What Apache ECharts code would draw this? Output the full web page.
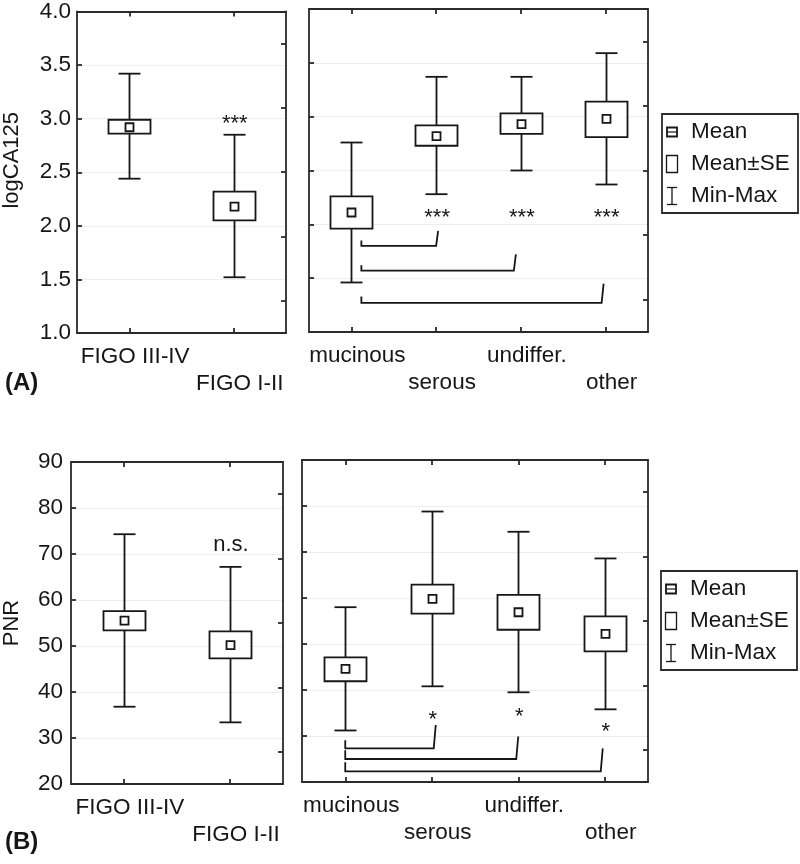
<!DOCTYPE html>
<html><head><meta charset="utf-8">
<script src="https://cdn.jsdelivr.net/npm/echarts@6/dist/echarts.min.js"></script>
<style>html,body{margin:0;padding:0;background:#fff}#c{width:800px;height:864px}</style>
</head><body><div id="c"></div>
<script>
// ================= DATA =================
const stageCats = ['FIGO III-IV', 'FIGO I-II'];
const histCats  = ['mucinous', 'serous', 'undiffer.', 'other'];

// Panel A: logCA125
const caStageMin    = [2.44, 1.52];
const caStageSeLow  = [2.86, 2.05];
const caStageMean   = [2.92, 2.18];
const caStageSeHigh = [2.99, 2.32];
const caStageMax    = [3.42, 2.85];
const caStageSig    = ['', '***'];
const caStageSigY   = [null, 2.95];

const caHistMin    = [1.46, 2.28, 2.50, 2.37];
const caHistSeLow  = [1.96, 2.73, 2.84, 2.81];
const caHistMean   = [2.11, 2.82, 2.93, 2.98];
const caHistSeHigh = [2.26, 2.92, 3.03, 3.14];
const caHistMax    = [2.76, 3.37, 3.37, 3.59];
const caHistSig    = ['', '***', '***', '***'];
const caHistSigY   = [null, 2.06, 2.06, 2.06];
const caPairs          = [[0, 1], [0, 2], [0, 3]];
const caBracketBar     = [1.80, 1.57, 1.27];
const caBracketLeftTop = [1.85, 1.62, 1.33];
const caBracketRightTop= [1.94, 1.72, 1.45];
const caTickMin = 1.0, caTickMax = 4.0, caTickStep = 0.5;

// Panel B: PNR
const pnrStageMin    = [36.8, 33.4];
const pnrStageSeLow  = [53.4, 47.3];
const pnrStageMean   = [55.5, 50.2];
const pnrStageSeHigh = [57.6, 53.2];
const pnrStageMax    = [74.3, 67.2];
const pnrStageSig    = ['', 'n.s.'];
const pnrStageSigY   = [null, 72.0];

const pnrHistMin    = [31.2, 40.8, 39.5, 35.8];
const pnrHistSeLow  = [41.9, 56.6, 53.1, 48.4];
const pnrHistMean   = [44.6, 59.8, 56.9, 52.2];
const pnrHistSeHigh = [47.1, 62.9, 60.7, 56.0];
const pnrHistMax    = [58.0, 78.8, 74.4, 68.6];
const pnrHistSig    = ['', '*', '*', '*'];
const pnrHistSigY   = [null, 33.6, 34.1, 30.9];
const pnrPairs          = [[0, 1], [0, 2], [0, 3]];
const pnrBracketBar     = [27.3, 25.0, 22.3];
const pnrBracketLeftTop = [29.1, 26.9, 24.3];
const pnrBracketRightTop= [32.4, 29.9, 27.3];
const pnrTickMin = 20, pnrTickMax = 90, pnrTickStep = 10;

const legendItems = ['Mean', 'Mean\u00B1SE', 'Min-Max'];

// ================= STYLE =================
const FONT = '"Liberation Sans", Arial, sans-serif';
const INK = '#161616';
const AX = '#2a2a2a';
const LW = 1.8;

const chart = echarts.init(document.getElementById('c'), null, {renderer: 'canvas'});

const grids = [
  {left: 77,  top: 10,  width: 209, height: 323},
  {left: 309, top: 9,   width: 339, height: 323},
  {left: 70,  top: 462, width: 213, height: 322},
  {left: 302, top: 460, width: 346, height: 322}
];

const xAxes = [], yAxes = [], series = [];

function addPanel(gi, cats, ymin, ymax, ystep, showY, yName, yNameGap, yNamePad, fmt) {
  const lineStyle = {color: AX, width: LW};
  xAxes.push({
    type: 'category', gridIndex: gi, data: cats, position: 'bottom',
    axisLine: {show: true, lineStyle},
    axisTick: {show: true, inside: true, length: 5, alignWithLabel: true, lineStyle},
    axisLabel: {
      interval: 0, fontSize: 22.5, fontFamily: FONT, color: INK, margin: 10,
      lineHeight: 27, padding: [0, 0, 0, 12],
      formatter: (v, i) => (i % 2 ? '\n' + v : v)
    },
    splitLine: {show: false}
  });
  xAxes.push({
    type: 'category', gridIndex: gi, data: cats, position: 'top',
    axisLine: {show: true, lineStyle},
    axisTick: {show: true, inside: true, length: 5, alignWithLabel: true, lineStyle},
    axisLabel: {show: false}, splitLine: {show: false}
  });
  yAxes.push({
    type: 'value', gridIndex: gi, min: ymin, max: ymax, interval: ystep, position: 'left',
    name: yName, nameLocation: 'middle', nameGap: yNameGap, nameRotate: 90,
    nameTextStyle: {fontSize: 22, fontFamily: FONT, color: INK, padding: yNamePad},
    axisLine: {show: true, lineStyle},
    axisTick: {show: true, inside: true, length: 5, lineStyle},
    axisLabel: {show: showY, fontSize: 22.5, fontFamily: FONT, color: INK, margin: fmt ? 6 : 8,
      formatter: fmt || (v => String(v))},
    splitLine: {show: true, lineStyle: {color: '#ededed', width: 1}}
  });
  yAxes.push({
    type: 'category', gridIndex: gi, position: 'right', data: ['a', 'b', 'c', 'd', 'e'],
    boundaryGap: true,
    axisLine: {show: true, lineStyle},
    axisTick: {show: true, inside: true, length: 5, alignWithLabel: true, lineStyle},
    axisLabel: {show: false}, splitLine: {show: false}
  });
}

function boxSeries(gi, mins, lows, means, highs, maxs) {
  const data = mins.map((m, i) => [i, m, lows[i], means[i], highs[i], maxs[i]]);
  return {
    type: 'custom', xAxisIndex: gi * 2, yAxisIndex: gi * 2, data,
    encode: {x: 0, y: [1, 2, 3, 4, 5]}, z: 5,
    renderItem(params, api) {
      const x = api.value(0);
      const pMin = api.coord([x, api.value(1)]);
      const pLo = api.coord([x, api.value(2)]);
      const pMean = api.coord([x, api.value(3)]);
      const pHi = api.coord([x, api.value(4)]);
      const pMax = api.coord([x, api.value(5)]);
      const cx = Math.round(pMin[0]) + 0.5;
      const bw = 42, cw = 22, ms = 8;
      const st = {stroke: INK, lineWidth: LW, fill: null};
      return {type: 'group', children: [
        {type: 'line', shape: {x1: cx, y1: pMax[1], x2: cx, y2: pHi[1]}, style: st},
        {type: 'line', shape: {x1: cx, y1: pLo[1], x2: cx, y2: pMin[1]}, style: st},
        {type: 'line', shape: {x1: cx - cw / 2, y1: pMax[1], x2: cx + cw / 2, y2: pMax[1]}, style: st},
        {type: 'line', shape: {x1: cx - cw / 2, y1: pMin[1], x2: cx + cw / 2, y2: pMin[1]}, style: st},
        {type: 'rect', shape: {x: cx - bw / 2, y: pHi[1], width: bw, height: pLo[1] - pHi[1]},
          style: {stroke: INK, lineWidth: LW, fill: '#fff'}},
        {type: 'rect', shape: {x: cx - ms / 2, y: pMean[1] - ms / 2, width: ms, height: ms},
          style: {stroke: INK, lineWidth: LW, fill: '#fff'}}
      ]};
    }
  };
}

function bracketSeries(gi, pairs, bar, leftTop, rightTop, insetL, insetR) {
  const data = pairs.map((p, i) => [p[0], p[1], bar[i], leftTop[i], rightTop[i]]);
  return {
    type: 'custom', xAxisIndex: gi * 2, yAxisIndex: gi * 2, data,
    encode: {x: [0, 1], y: [2, 3, 4]}, z: 4,
    renderItem(params, api) {
      const a = api.value(0), b = api.value(1);
      const pL = api.coord([a, api.value(2)]);
      const pR = api.coord([b, api.value(2)]);
      const pLT = api.coord([a, api.value(3)]);
      const pRT = api.coord([b, api.value(4)]);
      const xl = pL[0] + insetL, xr = pR[0] + insetR[params.dataIndex];
      return {type: 'polyline', shape: {points: [
        [xl, pLT[1]], [xl, pL[1]], [xr, pR[1]], [xr + 2, pRT[1]]
      ]}, style: {stroke: INK, lineWidth: LW, fill: null}};
    }
  };
}

function sigSeries(gi, labels, ys) {
  const items = [];
  labels.forEach((t, i) => { if (t) items.push({t, v: [i, ys[i]]}); });
  return {
    type: 'custom', xAxisIndex: gi * 2, yAxisIndex: gi * 2,
    data: items.map(o => o.v), encode: {x: 0, y: 1}, z: 6,
    renderItem(params, api) {
      const p = api.coord([api.value(0), api.value(1)]);
      return {type: 'text', x: p[0] + 1, y: p[1], style: {
        text: items[params.dataIndex].t, fontSize: 22, fontFamily: FONT, fill: INK,
        align: 'center', verticalAlign: 'middle'}};
    }
  };
}

addPanel(0, stageCats, caTickMin, caTickMax, caTickStep, true, 'logCA125', 54, [0, 0, 0, 24], v => v.toFixed(1));
addPanel(1, histCats, caTickMin, caTickMax, caTickStep, false, '', 0, 0, null);
addPanel(2, stageCats, pnrTickMin, pnrTickMax, pnrTickStep, true, 'PNR', 48, 0, null);
addPanel(3, histCats, pnrTickMin, pnrTickMax, pnrTickStep, false, '', 0, 0, null);

series.push(boxSeries(0, caStageMin, caStageSeLow, caStageMean, caStageSeHigh, caStageMax));
series.push(sigSeries(0, caStageSig, caStageSigY));
series.push(boxSeries(1, caHistMin, caHistSeLow, caHistMean, caHistSeHigh, caHistMax));
series.push(sigSeries(1, caHistSig, caHistSigY));
series.push(bracketSeries(1, caPairs, caBracketBar, caBracketLeftTop, caBracketRightTop, 10, [0, -7, -4]));
series.push(boxSeries(2, pnrStageMin, pnrStageSeLow, pnrStageMean, pnrStageSeHigh, pnrStageMax));
series.push(sigSeries(2, pnrStageSig, pnrStageSigY));
series.push(boxSeries(3, pnrHistMin, pnrHistSeLow, pnrHistMean, pnrHistSeHigh, pnrHistMax));
series.push(sigSeries(3, pnrHistSig, pnrHistSigY));
series.push(bracketSeries(3, pnrPairs, pnrBracketBar, pnrBracketLeftTop, pnrBracketRightTop, 0, [2, -2, -4]));

function legendGraphic(left, top) {
  const w = 136, h = 99;
  const ys = [18, 50, 82];
  const ix = left + 10;
  const children = [
    {type: 'rect', shape: {x: left, y: top, width: w, height: h}, style: {stroke: AX, lineWidth: LW, fill: '#fff'}},
    // Mean icon
    {type: 'rect', shape: {x: ix - 5, y: top + ys[0] - 4.5, width: 10, height: 9}, style: {stroke: INK, lineWidth: 1.8, fill: '#fff'}},
    {type: 'line', shape: {x1: ix - 5, y1: top + ys[0], x2: ix + 5, y2: top + ys[0]}, style: {stroke: INK, lineWidth: 1.2}},
    // Mean±SE icon
    {type: 'rect', shape: {x: ix - 5.5, y: top + ys[1] - 8.5, width: 11, height: 17}, style: {stroke: INK, lineWidth: 1.3, fill: '#fff'}},
    // Min-Max icon
    {type: 'line', shape: {x1: ix, y1: top + ys[2] - 8.5, x2: ix, y2: top + ys[2] + 8.5}, style: {stroke: INK, lineWidth: 1.3}},
    {type: 'line', shape: {x1: ix - 5, y1: top + ys[2] - 8.5, x2: ix + 5, y2: top + ys[2] - 8.5}, style: {stroke: INK, lineWidth: 1.3}},
    {type: 'line', shape: {x1: ix - 5, y1: top + ys[2] + 8.5, x2: ix + 5, y2: top + ys[2] + 8.5}, style: {stroke: INK, lineWidth: 1.3}}
  ];
  legendItems.forEach((t, i) => children.push({
    type: 'text', x: left + 29, y: top + ys[i],
    style: {text: t, fontSize: 22.5, fontFamily: FONT, fill: INK, align: 'left', verticalAlign: 'middle'}
  }));
  return {type: 'group', children};
}

chart.setOption({
  animation: false,
  backgroundColor: '#fff',
  grid: grids,
  xAxis: xAxes,
  yAxis: yAxes,
  series,
  graphic: [
    legendGraphic(662, 114),
    legendGraphic(661, 571),
    {type: 'text', x: 5, y: 383, style: {text: '(A)', fontSize: 24, fontWeight: 'bold', fontFamily: FONT, fill: INK, verticalAlign: 'middle'}},
    {type: 'text', x: 5, y: 842, style: {text: '(B)', fontSize: 24, fontWeight: 'bold', fontFamily: FONT, fill: INK, verticalAlign: 'middle'}}
  ]
});
</script></body></html>
